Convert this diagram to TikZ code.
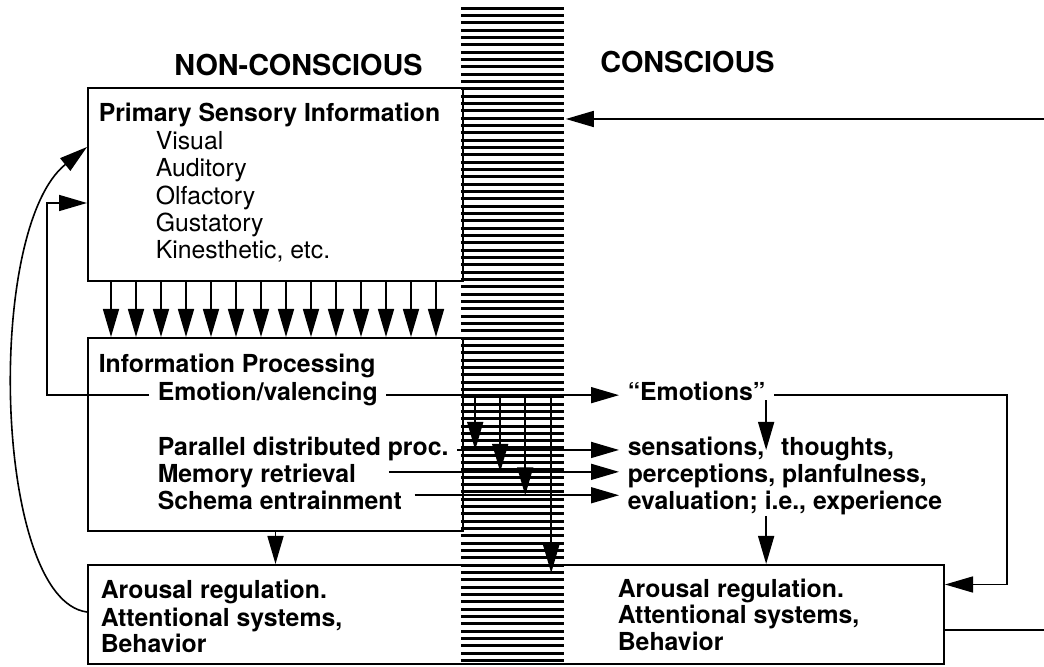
\documentclass[tikz,border=0pt]{standalone}
\usepackage{fontspec}
\setmainfont{TeX Gyre Heros}
\usetikzlibrary{arrows.meta,positioning,calc}

\begin{document}
\begin{tikzpicture}[x=0.5pt,y=-0.5pt,>={Triangle[length=14pt,width=8pt]},
                    line width=0.8pt]
  \tikzstyle{bx}=[draw, line width=1pt, inner sep=0pt, minimum width=187.5pt, minimum height=96.5pt]
  \tikzstyle{ttl}=[anchor=base west, inner sep=4pt, font=\bfseries\fontsize{12.4}{14}\selectfont]
  \tikzstyle{itm}=[anchor=base west, inner sep=4pt, font=\fontsize{12.4}{14}\selectfont]
  \tikzstyle{hdr}=[anchor=base, font=\bfseries\fontsize{14.4}{17}\selectfont]
  \tikzstyle{hatch}=[line width=1.5pt]

  \useasboundingbox (0,0) rectangle (1044,667);

  % the striped bar
  \node[inner sep=0pt, minimum width=51.5pt, minimum height=330pt] (bar) at (513.5,337) {};
  \foreach \i in {0,...,89}
    \draw[hatch] ($(bar.north west)+(0,2+7.33*\i)$) -- ++(103,0);

  \node[hdr] (noncon) at (298.5,76) {NON-CONSCIOUS};
  \node[hdr] (con)    at (687.5,73) {CONSCIOUS};

  \node[bx] (psi) at (275.5,184.5) {};
  \node[bx] (ipr) at (275.5,434.5) {};
  \node[bx, minimum width=428pt, minimum height=49.5pt] (aro) at (516,614.5) {};

  \node[ttl] (pri) at (90,122) {Primary Sensory Information};
  \node[itm] (vis) [below=13.7pt of pri.base west, anchor=base west, xshift=28.5pt] {Visual};
  \node[itm] (aud) [below=13.7pt of vis.base west, anchor=base west] {Auditory};
  \node[itm] (olf) [below=13.7pt of aud.base west, anchor=base west] {Olfactory};
  \node[itm] (gus) [below=13.7pt of olf.base west, anchor=base west] {Gustatory};
  \node[itm] (kin) [below=13.7pt of gus.base west, anchor=base west] {Kinesthetic, etc.};

  \node[ttl] (inf) at (90,373) {Information Processing};
  \node[ttl] (emo) [below=13.7pt of inf.base west, anchor=base west, xshift=29.5pt] {Emotion/valencing};
  \node[ttl] (par) [below=27.4pt of emo.base west, anchor=base west] {Parallel distributed proc.};
  \node[ttl] (mem) [below=13.7pt of par.base west, anchor=base west] {Memory retrieval};
  \node[ttl] (sch) [below=13.7pt of mem.base west, anchor=base west] {Schema entrainment};

  \coordinate (rx) at (619,0);
  \node[ttl] (emos) at (rx |- emo.base) {“Emotions”};
  \node[ttl] (sen)  at (rx |- par.base) {sensations,\hspace{5pt} thoughts,};
  \node[ttl] (perc) at (rx |- mem.base) {perceptions, planfulness,};
  \node[ttl] (eva)  at (rx |- sch.base) {evaluation; i.e., experience};

  \node[ttl] (al1) at (92,599) {Arousal regulation.};
  \node[ttl] (al2) [below=13.5pt of al1.base west, anchor=base west] {Attentional systems,};
  \node[ttl] (al3) [below=13.5pt of al2.base west, anchor=base west] {Behavior};
  \node[ttl] (ar1) at (609,597) {Arousal regulation.};
  \node[ttl] (ar2) [below=13.5pt of ar1.base west, anchor=base west] {Attentional systems,};
  \node[ttl] (ar3) [below=13.5pt of ar2.base west, anchor=base west] {Behavior};

  % sensory channels into processing
  \foreach \i in {0,...,13}
    \draw[->] ($(psi.south west)+(24+25*\i,0)$) -- ($(ipr.north west)+(24+25*\i,0)$);
  \draw[->] (ipr.south) -- (ipr.south |- aro.north);

  % processing lines across the bar
  \coordinate (memS) at ($(mem.mid east)+(24,-5.5)$);
  \coordinate (schS) at ($(sch.mid east)+(4,-9.5)$);
  \draw[->] (emo.mid east) -- (emos.mid west);
  \draw[->] (par.mid east) -- (sen.mid west);
  \draw[->] (memS) -- (memS -| perc.west);
  \draw[->] (schS) -- (schS -| eva.west);

  \foreach \n/\dx in {1/14,2/39,3/64,4/90}
    \coordinate (c\n) at ($(bar.west)+(\dx,0)$);
  \draw[->] (c1 |- emo.mid) -- (c1 |- sen.mid);
  \draw[->] (c2 |- emo.mid) -- (c2 |- memS);
  \draw[->] (c3 |- emo.mid) -- (c3 |- schS);
  \draw[->,shorten >=-4.5pt] (c4 |- emo.mid) -- (c4 |- aro.north);

  % conscious side
  \coordinate (dE) at ($(emos.base east)+(-8,0)$);
  \draw[->] (dE) -- (dE |- sen.mid);
  \draw[->] ($(dE |- eva.base)+(0,6)$) -- (dE |- aro.north);
  \draw[->] (emos.mid east) -| ($(aro.east)+(62,-30)$) -- ($(aro.east)+(0,-30)$);

  % feedback
  \draw[->] (emo.mid west) -| ($(psi.west)+(-40,18.5)$) -- ($(psi.west)+(0,18.5)$);
  \draw[->] ($(aro.west)+(0,-2.5)$) .. controls +(-93,-12) and +(-103,83) .. ($(psi.west)+(0,-37.5)$);

  \coordinate (outT) at (1044,119);
  \coordinate (outB) at (1044,630);
  \draw[->] (outT) -- (outT -| bar.east);
  \draw (aro.east |- outB) -- (outB);
\end{tikzpicture}
\end{document}
